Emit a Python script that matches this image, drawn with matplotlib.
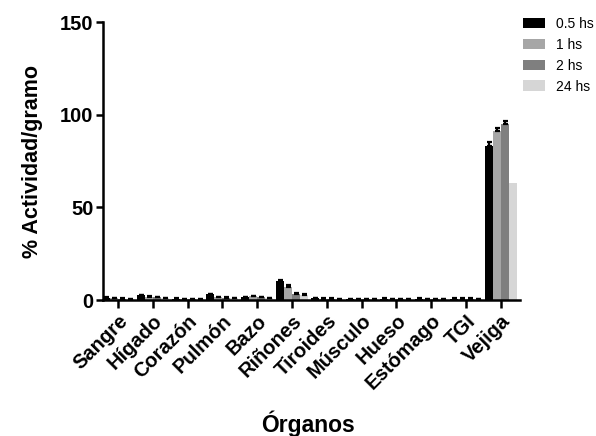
import numpy as np
import matplotlib
matplotlib.use("Agg")
from matplotlib import pyplot as plt
from matplotlib.patches import Patch

plt.rcParams['font.family'] = ['Liberation Sans', 'DejaVu Sans']

organos = ["Sangre", "Hígado", "Corazón", "Pulmón", "Bazo", "Riñones",
           "Tiroides", "Músculo", "Hueso", "Estómago", "TGI", "Vejiga"]
series = ["0.5 hs", "1 hs", "2 hs", "24 hs"]

v_05 = [1.2, 2.5, 0.8, 3.0, 1.5, 10.0, 1.0, 0.6, 0.8, 0.8, 0.8, 83.0]
v_1 = [0.9, 1.8, 0.6, 1.5, 2.0, 7.0, 0.8, 0.5, 0.6, 0.6, 0.8, 91.0]
v_2 = [0.8, 1.5, 0.6, 1.2, 1.5, 3.0, 0.8, 0.5, 0.6, 0.6, 0.8, 95.0]
v_24 = [0.6, 1.0, 0.4, 1.0, 1.0, 2.5, 0.5, 0.4, 0.5, 0.5, 0.6, 63.0]

e_05 = [0.2, 0.4, 0.1, 0.4, 0.3, 1.0, 0.2, 0.1, 0.1, 0.1, 0.1, 2.5]
e_1 = [0.2, 0.3, 0.1, 0.3, 0.3, 1.0, 0.1, 0.1, 0.1, 0.1, 0.1, 2.0]
e_2 = [0.1, 0.3, 0.1, 0.2, 0.3, 0.6, 0.1, 0.1, 0.1, 0.1, 0.1, 1.5]
e_24 = [0.1, 0.2, 0.1, 0.2, 0.2, 0.5, 0.1, 0.1, 0.1, 0.1, 0.1, 0.0]

colors = ["#000000", "#a6a6a6", "#7f7f7f", "#d6d6d6"]

fig = plt.figure(figsize=(5.96, 4.36), dpi=100)
ax = fig.add_axes([103 / 596, 1 - 300 / 436, (520 - 103) / 596, (300 - 22) / 436])

x = np.arange(len(organos))
w = 0.23
vals = [v_05, v_1, v_2, v_24]
errs = [e_05, e_1, e_2, e_24]
for i in range(4):
    pos = x + (i - 1.5) * w
    ax.bar(pos, vals[i], width=w, color=colors[i], edgecolor='none', zorder=2)
    err = np.array(errs[i])
    m = err > 0
    ax.errorbar(pos[m], np.array(vals[i])[m], yerr=[np.zeros(m.sum()), err[m]],
                fmt='none', ecolor='black', elinewidth=1.6, capsize=1.8,
                capthick=1.6, zorder=3)

ax.set_xlim(-0.43, 11.55)
ax.set_ylim(0, 150)
ax.set_yticks([0, 50, 100, 150])
ax.set_xticks(x)
ax.set_xticklabels(organos, rotation=45, ha='right', rotation_mode='anchor',
                   fontsize=14.5, fontweight='bold')
for lab in ax.get_yticklabels():
    lab.set_fontweight('bold')
    lab.set_fontsize(14.5)

for s in ['top', 'right']:
    ax.spines[s].set_visible(False)
for s in ['left', 'bottom']:
    ax.spines[s].set_linewidth(1.8)
ax.tick_params(axis='both', width=1.8, length=5, pad=2)
ax.tick_params(axis='x', length=6)

ax.set_ylabel("% Actividad/gramo", fontsize=15.5, fontweight='bold', labelpad=12)
fig.text(308 / 596, 1 - 424 / 436, "Órganos", fontsize=16.5, fontweight='bold',
         ha='center', va='center')

handles = [Patch(facecolor=c, edgecolor='none', label=s) for c, s in zip(colors, series)]
fig.legend(handles=handles, loc='upper left', bbox_to_anchor=(520 / 596, 1 - 14 / 436),
           frameon=False, fontsize=10, handlelength=1.6, handleheight=0.8,
           handletextpad=0.8, labelspacing=0.5, borderaxespad=0, borderpad=0.2)

fig.savefig("out.png", dpi=100)
